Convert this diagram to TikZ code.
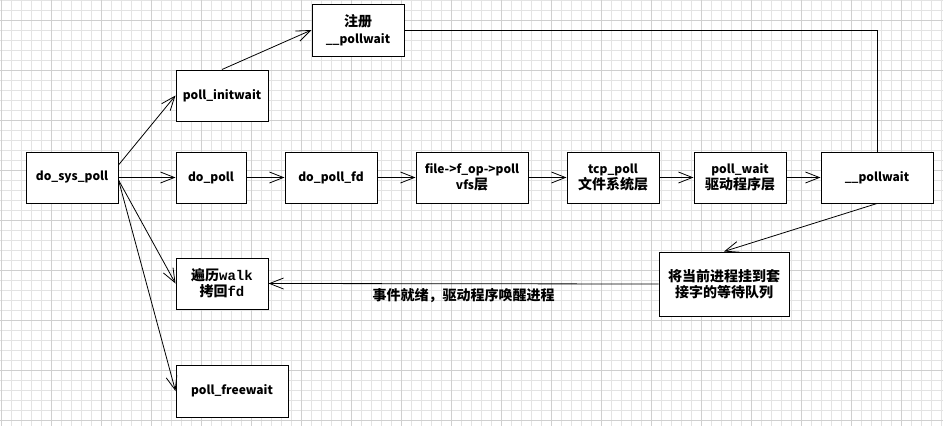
\documentclass[tikz,border=0pt]{standalone}
\usepackage{fontspec}
\setmainfont{Noto Sans CJK SC}
\newfontfamily\codefont{Liberation Mono}
\newcommand{\cnsize}{\fontsize{14}{16.5}\selectfont}
\usepackage{tikz}
\usetikzlibrary{arrows.meta,positioning}

\begin{document}
\begin{tikzpicture}[
    x=1pt, y=-1pt,
    block/.style={rectangle, draw, line width=1pt, fill=white, minimum width=92pt, minimum height=51pt, inner sep=0pt, align=center, font=\fontsize{12}{16.5}\selectfont\bfseries},
    cn/.style={font=\fontsize{14}{16}\selectfont\bfseries},
    arrow/.style={-{Straight Barb[length=14pt,width=11pt]}, line width=0.8pt},
    link/.style={line width=1pt},
    minorgrid/.style={draw=black!11, line width=1pt},
    majorgrid/.style={draw=black!19, line width=1pt}
]
\useasboundingbox (0,0) rectangle (943,426);
\fill[white] (0,0) rectangle (943,426);
\foreach \gx in {1,11,...,941} {\draw[minorgrid] (\gx,0) -- (\gx,426);}
\foreach \gy in {0,10,...,420} {\draw[minorgrid] (0,\gy) -- (943,\gy);}
\foreach \gx in {1,51,...,941} {\draw[majorgrid] (\gx,0) -- (\gx,426);}
\foreach \gy in {20,70,...,420} {\draw[majorgrid] (0,\gy) -- (943,\gy);}

\node[block] (dosyspoll) at (72,177.5) {do\_sys\_poll};
\node[block] (initwait) at (222,95.5) {poll\_initwait};
\node[block, minimum height=52pt] (register) at (358,30) {{\cnsize 注册}\\\_\_pollwait};
\node[block, minimum width=70pt] (dopoll) at (211,177.5) {do\_poll};
\node[block] (dopollfd) at (331,177.5) {do\_poll\_fd};
\node[block, minimum width=112pt] (fop) at (472,177.5) {file->f\_op->poll\\vfs{\cnsize 层}};
\node[block] (tcppoll) at (613,177.5) {tcp\_poll\\{\cnsize 文件系统层}};
\node[block] (pollwait) at (740,177.5) {poll\_wait\\{\cnsize 驱动程序层}};
\node[block, minimum width=112pt] (pollwaitfn) at (877,177.5) {\_\_pollwait};
\node[block, minimum width=130pt, minimum height=64pt, font=\fontsize{14}{15.5}\selectfont\bfseries] (queue) at (724,284) {将当前进程挂到套\\接字的等待队列};
\node[block, font=\fontsize{14}{16}\selectfont\bfseries] (walk) at (222,283.5) {遍历{\codefont\bfseries walk}\\拷回{\codefont\bfseries fd}};
\node[block, minimum width=112pt, minimum height=52pt] (freewait) at (232,391) {poll\_freewait};

\draw[arrow] ([yshift=12.5pt]dosyspoll.east) -- (initwait.west);
\draw[arrow] (initwait.north) -- (register.west);
\draw[arrow] (dosyspoll) -- (dopoll);
\draw[arrow] (dopoll) -- (dopollfd);
\draw[arrow] (dopollfd) -- (fop);
\draw[arrow] (fop) -- (tcppoll);
\draw[arrow] (tcppoll) -- (pollwait);
\draw[arrow] (pollwait) -- (pollwaitfn);
\draw[link] (register.east) -| (pollwaitfn.north);
\draw[arrow] (pollwaitfn.south) -- (queue.north);
\draw[arrow] (queue.west) -- node[below=1pt, cn] {事件就绪，驱动程序唤醒进程} (walk.east);
\draw[arrow] ([yshift=-2.5pt]dosyspoll.east) -- (walk.west);
\draw[arrow] ([yshift=-2.5pt]dosyspoll.east) -- (freewait.west);
\end{tikzpicture}
\end{document}
